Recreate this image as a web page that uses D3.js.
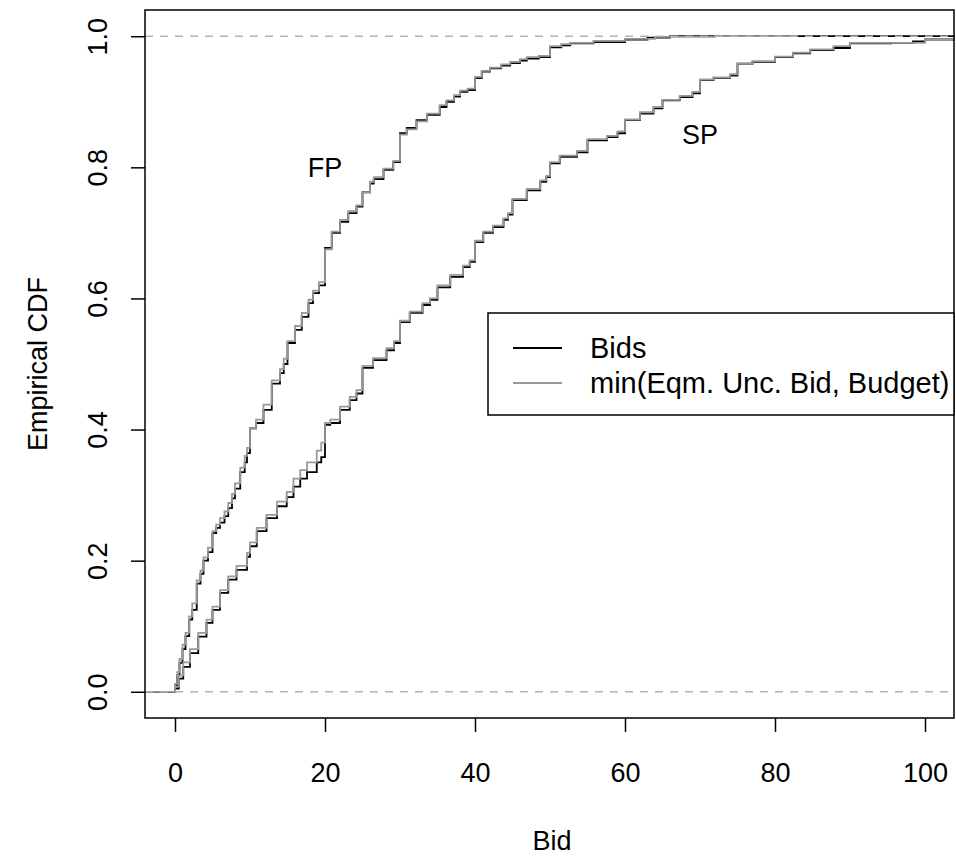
<!DOCTYPE html>
<html>
<head>
<meta charset="utf-8">
<script src="https://cdn.jsdelivr.net/npm/d3@7"></script>
<style>
  body { margin: 0; background: #ffffff; }
  text { font-family: "Liberation Sans", Arial, sans-serif; fill: #000000; }
</style>
</head>
<body>
<div id="chart"></div>
<script>
// DATA: empirical CDF, [bid, F(bid)] (step after)
let fp_bids = [
  [0, 0.01], [0.3, 0.025], [0.6, 0.044], [1.0, 0.065], [1.4, 0.085], [1.9, 0.11],
  [2.3, 0.125], [2.9, 0.165], [3.4, 0.18], [3.8, 0.2], [4.4, 0.213], [5, 0.242],
  [5.5, 0.25], [6, 0.258], [6.6, 0.268], [7.1, 0.28], [7.6, 0.295], [8.0, 0.31],
  [8.7, 0.335], [9.3, 0.35], [9.6, 0.364], [10, 0.402], [10.8, 0.41], [11.8, 0.43],
  [12.9, 0.47], [14, 0.486], [14.5, 0.5], [15, 0.532], [16, 0.552], [16.9, 0.572],
  [17.8, 0.593], [18.4, 0.608], [19.2, 0.62], [20, 0.677], [20.9, 0.7], [22, 0.717],
  [23.1, 0.73], [24.2, 0.74], [25, 0.762], [26, 0.775], [26.5, 0.782], [27.8, 0.796],
  [29.1, 0.808], [30, 0.852], [30.9, 0.86], [32.2, 0.872], [33.6, 0.88], [35.3, 0.892],
  [36.2, 0.9], [37.2, 0.908], [38, 0.915], [39, 0.918], [40, 0.936], [40.9, 0.946],
  [42, 0.951], [43.5, 0.955], [44.7, 0.959], [46, 0.963], [46.9, 0.966], [48.5, 0.968],
  [50, 0.983], [51.5, 0.986], [52.7, 0.989], [55.8, 0.991], [60, 0.995], [63, 0.998],
  [66, 1],
];

let fp_eqm = [
  [0, 0.012], [0.3, 0.03], [0.6, 0.05], [1.0, 0.072], [1.4, 0.09], [1.9, 0.115],
  [2.3, 0.135], [2.9, 0.17], [3.4, 0.185], [3.8, 0.205], [4.4, 0.22], [5, 0.245],
  [5.5, 0.255], [6, 0.265], [6.6, 0.275], [7.1, 0.288], [7.6, 0.302], [8.0, 0.318],
  [8.7, 0.342], [9.3, 0.36], [9.6, 0.372], [10, 0.402], [10.8, 0.415], [11.8, 0.438],
  [12.9, 0.475], [14, 0.492], [14.5, 0.508], [15, 0.535], [16, 0.558], [16.9, 0.578],
  [17.8, 0.598], [18.4, 0.612], [19.2, 0.625], [20, 0.675], [20.9, 0.702], [22, 0.72],
  [23.1, 0.733], [24.2, 0.742], [25, 0.762], [26, 0.778], [26.5, 0.785], [27.8, 0.798],
  [29.1, 0.81], [30, 0.85], [30.9, 0.858], [32.2, 0.87], [33.6, 0.882], [35.3, 0.895],
  [36.2, 0.902], [37.2, 0.91], [38, 0.917], [39, 0.92], [40, 0.938], [40.9, 0.947],
  [42, 0.952], [43.5, 0.957], [44.7, 0.961], [46, 0.965], [46.9, 0.968], [48.5, 0.97],
  [50, 0.985], [51.5, 0.988], [52.7, 0.99], [55.8, 0.993], [60, 0.996], [64, 0.999],
  [72, 1], [83, 1],
];

let sp_bids = [
  [0, 0.005], [0.5, 0.02], [1.1, 0.038], [2, 0.059], [3.1, 0.084], [4.2, 0.105],
  [5, 0.125], [6, 0.151], [7.1, 0.171], [8.2, 0.186], [9.6, 0.206], [10, 0.222],
  [10.9, 0.245], [12.2, 0.265], [13.6, 0.283], [14.9, 0.297], [15.8, 0.313], [16.7, 0.325],
  [17.6, 0.335], [18.9, 0.35], [19.5, 0.358], [20, 0.407], [20.7, 0.41], [22, 0.43],
  [23.3, 0.445], [24.2, 0.455], [25, 0.494], [26.4, 0.506], [28.2, 0.521], [29.2, 0.532],
  [30, 0.564], [31.3, 0.578], [33, 0.59], [34, 0.598], [35, 0.617], [36.7, 0.633],
  [38.4, 0.648], [39.3, 0.656], [40, 0.686], [41.1, 0.7], [42.4, 0.709], [43.8, 0.72],
  [44.4, 0.728], [45, 0.75], [46.9, 0.765], [48.7, 0.778], [49.5, 0.785], [50, 0.806],
  [51.3, 0.816], [53.6, 0.823], [55, 0.841], [57.6, 0.846], [59, 0.852], [60, 0.872],
  [62, 0.882], [63.8, 0.89], [65, 0.902], [67.3, 0.907], [69, 0.913], [70, 0.933],
  [71.8, 0.936], [74, 0.94], [75, 0.958], [77, 0.961], [80, 0.968], [82.4, 0.974],
  [84.7, 0.979], [87.8, 0.982], [90, 0.989], [95.5, 0.99], [98.4, 0.992], [100, 0.995],
];

let sp_eqm = [
  [0, 0.008], [0.5, 0.025], [1.1, 0.045], [2, 0.065], [3.1, 0.09], [4.2, 0.11],
  [5, 0.13], [6, 0.155], [7.1, 0.176], [8.2, 0.192], [9.6, 0.212], [10, 0.228],
  [10.9, 0.25], [12.2, 0.27], [13.6, 0.29], [14.9, 0.305], [15.8, 0.325], [16.7, 0.338],
  [17.6, 0.35], [18.9, 0.368], [19.5, 0.38], [20, 0.41], [20.7, 0.415], [22, 0.435],
  [23.3, 0.45], [24.2, 0.46], [25, 0.497], [26.4, 0.509], [28.2, 0.524], [29.2, 0.535],
  [30, 0.566], [31.3, 0.58], [33, 0.593], [34, 0.6], [35, 0.62], [36.7, 0.636],
  [38.4, 0.65], [39.3, 0.658], [40, 0.688], [41.1, 0.702], [42.4, 0.711], [43.8, 0.722],
  [44.4, 0.73], [45, 0.752], [46.9, 0.767], [48.7, 0.78], [49.5, 0.787], [50, 0.808],
  [51.3, 0.818], [53.6, 0.825], [55, 0.843], [57.6, 0.848], [59, 0.855], [60, 0.873],
  [62, 0.884], [63.8, 0.892], [65, 0.903], [67.3, 0.909], [69, 0.915], [70, 0.934],
  [71.8, 0.937], [74, 0.942], [75, 0.958], [77, 0.962], [80, 0.969], [82.4, 0.975],
  [84.7, 0.98], [87.8, 0.985], [90, 0.99], [98.4, 0.99], [100, 0.995],
];

let x_ticks = [0, 20, 40, 60, 80, 100];
let y_ticks = [0, 0.2, 0.4, 0.6, 0.8, 1.0];
let legend_labels = ["Bids", "min(Eqm. Unc. Bid, Budget)"];
let curve_labels = [
  { text: "FP", bid: 20, cdf: 0.8 },
  { text: "SP", bid: 70, cdf: 0.85 },
];

// LAYOUT
let width = 956;
let height = 856;
let plot = { left: 145, right: 955, top: 10, bottom: 718 };
let font_size = 27;
let legend_font_size = 29;
let black_col = "#000000";
let gray_col = "#999999";
let line_col_01 = "#b3b3b3";

let svg = d3
  .select("#chart")
  .append("svg")
  .attr("width", width)
  .attr("height", height)
  .style("background", "#ffffff");

let x = d3.scaleLinear().domain([-4, 104]).range([plot.left, plot.right]);
let y = d3.scaleLinear().domain([-0.04, 1.04]).range([plot.bottom, plot.top]);

svg
  .append("clipPath")
  .attr("id", "plot-clip")
  .append("rect")
  .attr("x", plot.left)
  .attr("y", plot.top)
  .attr("width", plot.right - plot.left)
  .attr("height", plot.bottom - plot.top);

let plot_g = svg.append("g").attr("clip-path", "url(#plot-clip)");

// step function, starting at 0 left of the plot and (optionally) running past the right edge
let step_line = d3
  .line()
  .x((d) => x(d[0]))
  .y((d) => y(d[1]))
  .curve(d3.curveStepAfter);

function ecdfPoints(data, extend_right) {
  let pts = [[x.domain()[0] - 5, 0], ...data];
  if (extend_right) {
    pts.push([x.domain()[1] + 5, data[data.length - 1][1]]);
  }
  return pts;
}

let series = [
  { data: fp_bids, col: black_col, extend: true },
  { data: fp_eqm, col: gray_col, extend: false },
  { data: sp_bids, col: black_col, extend: true },
  { data: sp_eqm, col: gray_col, extend: true },
];

plot_g
  .selectAll("path.ecdf")
  .data(series)
  .enter()
  .append("path")
  .attr("class", "ecdf")
  .attr("d", (d) => step_line(ecdfPoints(d.data, d.extend)))
  .attr("fill", "none")
  .attr("stroke", (d) => d.col)
  .attr("stroke-width", 1.8);

// dashed reference lines at 0 and 1
plot_g
  .selectAll("line.ref")
  .data([0, 1])
  .enter()
  .append("line")
  .attr("class", "ref")
  .attr("x1", plot.left)
  .attr("x2", plot.right)
  .attr("y1", (d) => y(d))
  .attr("y2", (d) => y(d))
  .attr("stroke", line_col_01)
  .attr("stroke-width", 1.5)
  .attr("stroke-dasharray", "8,7");

// curve labels
svg
  .selectAll("text.curve-label")
  .data(curve_labels)
  .enter()
  .append("text")
  .attr("class", "curve-label")
  .attr("x", (d) => x(d.bid))
  .attr("y", (d) => y(d.cdf))
  .attr("dy", "0.35em")
  .attr("text-anchor", "middle")
  .style("font-size", font_size + "px")
  .text((d) => d.text);

// box
svg
  .append("rect")
  .attr("x", plot.left)
  .attr("y", plot.top)
  .attr("width", plot.right - plot.left - 1)
  .attr("height", plot.bottom - plot.top)
  .attr("fill", "none")
  .attr("stroke", "#000000")
  .attr("stroke-width", 1.5);

// x axis
let x_axis = svg
  .append("g")
  .attr("transform", "translate(0," + plot.bottom + ")")
  .call(d3.axisBottom(x).tickValues(x_ticks).tickSize(14).tickPadding(31));
x_axis.select(".domain").remove();
x_axis.selectAll("line").attr("stroke", "#000000").attr("stroke-width", 1.5);
x_axis
  .selectAll("text")
  .style("font-size", font_size + "px")
  .style("font-family", '"Liberation Sans", Arial, sans-serif');

// y axis, labels rotated like R's default
let y_axis = svg
  .append("g")
  .attr("transform", "translate(" + plot.left + ",0)")
  .call(d3.axisLeft(y).tickValues(y_ticks).tickSize(14).tickFormat(d3.format(".1f")));
y_axis.select(".domain").remove();
y_axis.selectAll("line").attr("stroke", "#000000").attr("stroke-width", 1.5);
y_axis
  .selectAll("text")
  .attr("x", null)
  .attr("dy", null)
  .attr("text-anchor", "middle")
  .attr("transform", "translate(-38,0) rotate(-90)")
  .style("font-size", font_size + "px")
  .style("font-family", '"Liberation Sans", Arial, sans-serif');

// axis titles
svg
  .append("text")
  .attr("x", (plot.left + plot.right) / 2 + 2)
  .attr("y", 850)
  .attr("text-anchor", "middle")
  .style("font-size", font_size + "px")
  .text("Bid");

svg
  .append("text")
  .attr("transform", "translate(47," + (plot.top + plot.bottom) / 2 + ") rotate(-90)")
  .attr("text-anchor", "middle")
  .style("font-size", font_size + "px")
  .text("Empirical CDF");

// legend
let legend = { left: 488, top: 313, right: 954, bottom: 415, line_x1: 513, line_x2: 562, text_x: 590, row_y: [348, 383] };

svg
  .append("rect")
  .attr("x", legend.left)
  .attr("y", legend.top)
  .attr("width", legend.right - legend.left)
  .attr("height", legend.bottom - legend.top)
  .attr("fill", "#ffffff")
  .attr("stroke", "#000000")
  .attr("stroke-width", 1.5);

svg
  .selectAll("line.legend-line")
  .data(legend_labels)
  .enter()
  .append("line")
  .attr("class", "legend-line")
  .attr("x1", legend.line_x1)
  .attr("x2", legend.line_x2)
  .attr("y1", (d, i) => legend.row_y[i])
  .attr("y2", (d, i) => legend.row_y[i])
  .attr("stroke", (d, i) => (i == 0 ? black_col : gray_col))
  .attr("stroke-width", 1.8);

svg
  .selectAll("text.legend-label")
  .data(legend_labels)
  .enter()
  .append("text")
  .attr("class", "legend-label")
  .attr("x", legend.text_x)
  .attr("y", (d, i) => legend.row_y[i])
  .attr("dy", "0.35em")
  .style("font-size", legend_font_size + "px")
  .text((d) => d);
</script>
</body>
</html>
